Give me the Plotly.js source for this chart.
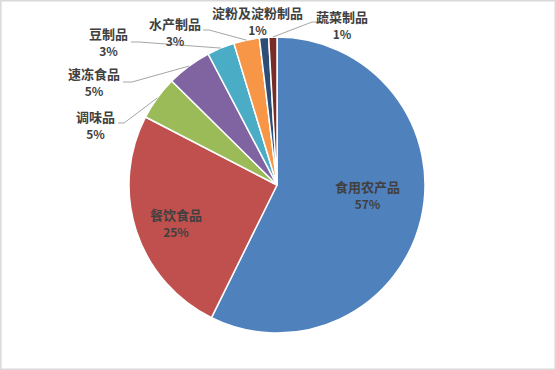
<!DOCTYPE html>
<html>
<head>
<meta charset="utf-8">
<script src="https://cdn.plot.ly/plotly-3.0.1.min.js"></script>
<style>
  html, body { margin: 0; padding: 0; background: #ffffff; }
  #chart { width: 556px; height: 370px; }
</style>
</head>
<body>
<div id="chart"></div>
<script>
// ---- data ----
const categories = ['食用农产品', '餐饮食品', '调味品', '速冻食品', '豆制品', '水产制品', '淀粉及淀粉制品', '蔬菜制品'];
const values = [57.3, 25.3, 4.8, 4.9, 3.0, 2.8, 1.0, 0.9];
const colors = ['#4F81BD', '#C0504D', '#9BBB59', '#8064A2', '#4BACC6', '#F79646', '#2C4D75', '#772C2A'];

// ---- layout constants (pixels) ----
const W = 556, H = 370;
const CX = 277, CY = 185, R = 148;
// label block centres
const labelPos = [[367, 194], [176, 222], [95, 124], [94, 81], [108, 42], [175, 31], [257, 21], [342, 24]];
// leader line label-side points (null = no leader)
const leaderStart = [null, null, [[118, 123], [124, 123]], [[123, 82], [132, 82]], [[131, 42], [139, 42]], [[203, 30], [209, 30]], null, [[317, 22], [312, 22]]];

const total = values.reduce((a, b) => a + b, 0);
const pct = values.map(v => Math.round(v / total * 100) + '%');

const font = '"Noto Sans CJK SC", "Microsoft YaHei", sans-serif';
const px2x = p => p / W;
const py2y = p => 1 - p / H;

const annotations = categories.map((c, i) => ({
  xref: 'paper', yref: 'paper',
  x: px2x(labelPos[i][0]), y: py2y(labelPos[i][1]),
  xanchor: 'center', yanchor: 'middle',
  showarrow: false,
  align: 'center',
  text: '<b>' + c + '</b><br><b><span style="font-size:12px">' + pct[i] + '</span></b>',
  font: { family: font, size: 13, color: '#404040' }
}));

// leader lines: from label side to slice edge at mid-angle
const shapes = [];
let cum = 0;
values.forEach((v, i) => {
  const mid = (cum + v / 2) / total;
  cum += v;
  if (!leaderStart[i]) return;
  const th = 2 * Math.PI * mid;
  const ex = CX + R * Math.sin(th), ey = CY - R * Math.cos(th);
  const pts = leaderStart[i].concat([[ex, ey]]);
  const path = pts.map((p, k) => (k ? 'L' : 'M') + px2x(p[0]) + ',' + py2y(p[1])).join(' ');
  shapes.push({
    type: 'path', xref: 'paper', yref: 'paper', path: path,
    line: { color: '#A6A6A6', width: 1 }
  });
});

// outer border
shapes.push({
  type: 'rect', xref: 'paper', yref: 'paper',
  x0: 0.8 / W, x1: 1 - 0.8 / W, y0: 0.8 / H, y1: 1 - 0.8 / H,
  line: { color: '#D9D9D9', width: 1.5 }, fillcolor: 'rgba(0,0,0,0)'
});

const trace = {
  type: 'pie',
  labels: categories,
  values: values,
  sort: false,
  direction: 'clockwise',
  rotation: 0,
  textinfo: 'none',
  hoverinfo: 'label+percent',
  marker: { colors: colors, line: { color: '#FFFFFF', width: 1.5 } },
  domain: { x: [(CX - R) / W, (CX + R) / W], y: [1 - (CY + R) / H, 1 - (CY - R) / H] },
  showlegend: false
};

const layout = {
  width: W, height: H,
  margin: { l: 0, r: 0, t: 0, b: 0 },
  paper_bgcolor: '#FFFFFF',
  showlegend: false,
  annotations: annotations,
  shapes: shapes,
  font: { family: font }
};

Plotly.newPlot('chart', [trace], layout, { displayModeBar: false, staticPlot: true });
</script>
</body>
</html>
